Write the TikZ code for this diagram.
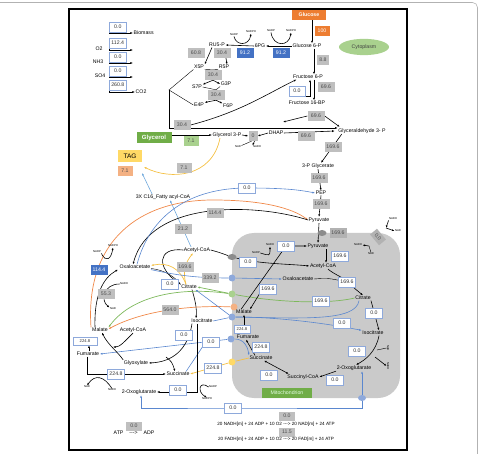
\documentclass[tikz,border=0pt]{standalone}
\usepackage{fontspec}
\setmainfont{Liberation Sans}
\usetikzlibrary{arrows.meta,shapes.geometric}
\definecolor{boxgray}{HTML}{BFBFBF}
\definecolor{valtext}{HTML}{4D4D4D}
\definecolor{wline}{HTML}{8EA9DB}
\definecolor{boxblue}{HTML}{4472C4}
\definecolor{orangebox}{HTML}{ED7D31}
\definecolor{greenbox}{HTML}{70AD47}
\definecolor{lgreen}{HTML}{A9D18E}
\definecolor{tagyellow}{HTML}{FFD966}
\definecolor{salmon}{HTML}{F4B183}
\definecolor{mitogray}{HTML}{CACACA}
\definecolor{lnblue}{HTML}{5A87CF}
\definecolor{lnlblue}{HTML}{6FA8DC}
\definecolor{lnorange}{HTML}{F0894A}
\definecolor{lnyellow}{HTML}{F4C043}
\definecolor{lngreen}{HTML}{7DB85B}
\definecolor{tpblue}{HTML}{8EA9DB}
\newcommand{\mf}{\fontsize{5.2}{6}\selectfont}
\newcommand{\smf}{\fontsize{4.2}{5}\selectfont}
\newcommand{\cf}{\fontsize{2.8}{3.2}\selectfont}
\pgfdeclarelayer{back}
\pgfdeclarelayer{mid}
\pgfsetlayers{back,mid,main}
\begin{document}
\begin{tikzpicture}[x=1pt,y=-1pt,
  met/.style={font=\mf,inner sep=0.5pt},
  cof/.style={font=\cf,inner sep=0.3pt},
  val/.style={font=\mf,minimum width=17,minimum height=10,inner sep=1pt},
  gbox/.style={val,fill=boxgray,text=valtext},
  wbox/.style={val,draw=wline,line width=0.6pt,fill=white,text=black!80},
  bbox/.style={val,fill=boxblue,text=white},
  smallval/.style={font=\smf,minimum width=14,minimum height=8},
  tp/.style={circle,fill=tpblue,minimum size=7,inner sep=0pt},
  carrier/.style={ellipse,fill=black!45,minimum width=9,minimum height=6,inner sep=0pt},
  arr/.style={-{Latex[length=2.6pt,width=2pt]},line width=0.6pt},
  arrs/.style={{Latex[length=2.6pt,width=2pt]}-{Latex[length=2.6pt,width=2pt]},line width=0.6pt},
  blu/.style={draw=lnblue,line width=0.6pt},
  lblu/.style={draw=lnlblue,line width=0.6pt},
  orn/.style={draw=lnorange,line width=0.7pt},
  yel/.style={draw=lnyellow,line width=0.7pt},
  grn/.style={draw=lngreen,line width=0.7pt}]
\useasboundingbox (0,0) rectangle (479,454);

% exchange fluxes
\node[wbox,anchor=west] (exbio) at (109,27) {0.0};
\node[met,anchor=west] (biom) at (133,33) {Biomass};
\node[wbox,anchor=west] (exo2) at (109,43) {112.4};
\node[met] (o2) at (99,49) {O2};
\coordinate (o2e) at (133,50);
\node[wbox,anchor=west] (exnh3) at (109,57) {0.0};
\node[met] (nh3) at (98,62) {NH3};
\coordinate (nh3e) at (133,63);
\node[wbox,anchor=west] (exso4) at (109,71) {0.0};
\node[met] (so4) at (100,76) {SO4};
\coordinate (so4e) at (133,77);
\node[wbox,anchor=west] (exco2) at (109,85) {260.8};
\node[met,anchor=west] (co2) at (135,92) {CO2};

% glycolysis
\node[val,fill=orangebox,text=white,minimum width=34,font=\mf\bfseries] (glc) at (309,15) {Glucose};
\node[val,fill=orangebox,text=white,minimum width=15] (vglc) at (322,31) {100};
\node[ellipse,fill=lgreen,minimum width=50,minimum height=14,font=\mf,text=black!75] (cyto) at (364,47) {Cytoplasm};
\node[met] (g6p) at (307,46) {Glucose 6-P};
\node[gbox,minimum width=12] (v88) at (323,60) {8.8};
\node[met] (f6p) at (308,77) {Fructose 6-P};
\node[gbox] (vpfk) at (326,87) {69.6};
\node[wbox,minimum width=16] (vfbpase) at (297,91) {0.0};
\node[met] (fbp) at (307,103) {Fructose 16-BP};
\node[gbox] (vald) at (316,116) {69.6};
\coordinate (aldl) at (283,122);
\node[met] (gap) at (362,131) {Glyceraldehyde 3- P};
\node[gbox] (vtpi) at (306,136) {69.6};
\node[met] (dhap) at (276,133) {DHAP};
\node[gbox] (vgapdh) at (333,147) {169.6};
\node[met] (pga) at (318,166) {3-P Glycerate};
\node[gbox] (veno) at (319,178) {169.6};
\node[met] (pep) at (321,193) {PEP};
\node[gbox] (vpk) at (321,204) {169.6};
\node[met] (pyr) at (319,220) {Pyruvate};

% pentose phosphate
\node[met] (ru5p) at (217,45) {RU5-P};
\node[met] (pg6) at (260,46) {6PG};
\node[bbox] (vgnd) at (245,53) {91.2};
\node[bbox] (vg6pdh) at (281,53) {91.2};
\node[cof] (nadp1) at (234,35) {NADP};
\node[cof] (nadph1) at (251,32) {NADPH};
\node[cof] (nadp2) at (271,31) {NADP};
\node[cof] (nadph2) at (291,31) {NADPH};
\node[gbox] (vrpe) at (196,53) {60.8};
\node[gbox] (vrpi) at (222,53) {30.4};
\node[met] (x5p) at (199,67) {X5P};
\node[met] (r5p) at (224,67) {R5P};
\node[gbox] (vtkt) at (213,75) {30.4};
\node[met] (s7p) at (197,87) {S7P};
\node[met] (g3p) at (226,84) {G3P};
\node[gbox] (vtal) at (216,95) {30.4};
\node[met] (e4p) at (199,105) {E4P};
\node[met] (f6pb) at (228,106) {F6P};
\coordinate (pppbr) at (169,90);
\node[gbox] (vppp) at (182,125) {30.4};

% glycerol and TAG
\node[val,fill=greenbox,text=white,minimum width=35,minimum height=11,font=\fontsize{6}{7}\selectfont\bfseries] (glyc) at (154,138) {Glycerol};
\node[val,fill=lgreen,text=valtext,minimum width=15] (vglyc) at (191,141) {7.1};
\node[met] (g3pl) at (227,135) {Glycerol 3-P};
\node[gbox,minimum width=9] (vgpd) at (253,136) {0};
\node[cof] (nad1) at (238,147) {NAD};
\node[cof] (nadh1) at (257,147) {NADH};
\node[val,fill=tagyellow,minimum width=24,minimum height=12,font=\fontsize{6.5}{7}\selectfont] (tag) at (130,156) {TAG};
\node[val,fill=salmon,text=valtext,minimum width=15] (vtag) at (125,171) {7.1};
\node[gbox,minimum width=15] (vtagg) at (184,168) {7.1};
\coordinate (tagin1) at (144,167);
\coordinate (tagin2) at (142,173);
\node[met] (fac) at (163,197) {3X C16\_Fatty acyl-CoA};
\node[gbox] (vfas) at (183,229) {21.2};

% cytosolic reactions
\node[wbox] (vpck) at (247,188) {0.0};
\node[gbox] (vpc) at (215,213) {114.4};
\node[met] (oaa) at (135,267) {Oxaloacetate};
\node[bbox] (vme) at (99,270) {114.4};
\node[cof] (nadp3) at (97,252) {NADP};
\node[cof] (nadph3) at (113,246) {NADPH};
\node[gbox] (vmdh) at (106,294) {55.3};
\node[cof] (nadh3) at (124,284) {NADH};
\node[cof] (nad3) at (113,309) {NAD};
\node[met] (acoa) at (197,250) {Acetyl-CoA};
\node[gbox] (vacl) at (185,267) {169.6};
\node[met] (cit) at (189,287) {Citrate};
\node[wbox] (vcs) at (170,284) {0.0};
\node[gbox] (voaat) at (210,278) {339.2};
\node[gbox] (vmalt) at (170,310) {564.0};
\node[met] (cicit) at (202,321) {Isocitrate};
\node[met] (mal) at (100,330) {Malate};
\node[met] (cacoa2) at (133,330) {Acetyl-CoA};
\node[wbox,smallval,minimum width=24] (vfum) at (85,341) {224.8};
\node[met] (fum) at (88,354) {Fumarate};
\node[wbox] (vicl) at (184,335) {0.0};
\node[met] (glx) at (136,363) {Glyoxylate};
\node[met] (csuc) at (178,374) {Succinate};
\node[wbox] (vfrd) at (116,374) {224.8};
\node[cof] (nad6) at (87,387) {NAD};
\node[cof] (nadh6) at (112,390) {NADH};
\node[met] (cogl) at (139,392) {2-Oxoglutarate};
\node[wbox] (vidhc) at (178,390) {0.0};
\node[cof] (nadp5) at (213,387) {NADP};
\node[cof] (nadph5) at (207,399) {NADPH};
\coordinate (msarr) at (113,347);
\coordinate (iclb) at (166,357);
\node[wbox] (vfumt) at (211,342) {0.0};
\node[wbox] (vsuct) at (213,368) {224.8};
\node[wbox] (vogt) at (233,408) {0.0};

% transporters
\node[tp] (tpoaa) at (232,278) {};
\node[tp,fill=lgreen] (tpcit) at (232,294) {};
\node[tp,fill=salmon] (tpmal) at (234,307) {};
\node[tp] (tpic) at (232,317) {};
\node[tp] (tpfum) at (231,339) {};
\node[tp,fill=tagyellow] (tpsuc) at (232,362) {};
\node[tp,ellipse,minimum width=8,minimum height=6] (tpog) at (362,398) {};
\node[carrier] (tppyr) at (322,233) {};
\node[carrier] (tpac) at (232,257) {};

% mitochondrion
\node[gbox,fill=black!30] (vmpc) at (338,233) {169.6};
\node[gbox,fill=black!30,rotate=-50,minimum width=14,minimum height=9] (vpdh) at (378,237) {0.0};
\node[cof] (nadh7a) at (393,219) {NADH};
\node[cof] (nad7a) at (398,231) {NAD};
\node[cof] (nadh7b) at (358,245) {NADH};
\node[cof] (nad7b) at (371,254) {NAD};
\coordinate (pdhne) at (386,228);
\coordinate (pdhsw) at (369,246);
\node[met] (mpyr) at (318,246) {Pyruvate};
\node[wbox] (vmme) at (286,246) {0.0};
\node[cof] (nadh4) at (270,245) {NADH};
\node[cof] (nadp4) at (256,253) {NADP};
\node[wbox] (vact) at (248,262) {0.0};
\node[wbox] (vmpdh) at (340,256) {169.6};
\node[met] (macoa) at (323,266) {Acetyl-CoA};
\node[met] (moaa) at (298,279) {Oxaloacetate};
\node[wbox] (vmcs) at (347,282) {169.6};
\node[wbox] (vmmdh) at (268,289) {169.6};
\node[met] (mcit) at (363,298) {Citrate};
\node[wbox] (vcitt) at (321,301) {169.6};
\node[wbox] (vaco) at (374,313) {0.0};
\node[met] (mmal) at (244,312) {Malate};
\node[wbox] (vict) at (342,323) {0.0};
\node[wbox,smallval,minimum width=16] (vmfum) at (242,329) {224.8};
\node[met] (micit) at (373,333) {Isocitrate};
\node[met] (mfum) at (248,337) {Fumarate};
\node[wbox] (vsdh) at (261,347) {224.8};
\node[wbox] (vidh) at (357,351) {0.0};
\node[cof,rotate=-90] (nad8) at (388,348) {NAD};
\node[cof,rotate=-90] (nadh8) at (388,366) {NADH};
\coordinate (idha) at (377,350);
\coordinate (idhb) at (375,357);
\node[met] (msuc) at (261,358) {Succinate};
\node[met] (mogl) at (354,368) {2-Oxoglutarate};
\node[wbox] (vscs) at (269,375) {0.0};
\node[met] (msca) at (303,377) {Succinyl-CoA};
\node[wbox] (vogdh) at (335,380) {0.0};
\node[val,fill=greenbox,text=white!90!green,minimum width=50] (mitol) at (287,393) {Mitochondrion};

% energy
\node[gbox,minimum width=16,minimum height=9] (vatp) at (134,426) {0.0};
\node[met] (atpm) at (134,433) {ATP\hspace{6pt}-{}-{}->\hspace{6pt}ADP};
\node[gbox,minimum width=16,minimum height=9] (vnadh) at (287,416) {0.0};
\node[gbox,minimum width=16,minimum height=9] (vfadh) at (287,432) {11.5};
\node[met,font=\fontsize{4.6}{5}\selectfont] (eqn) at (276,424) {20 NADH[m] + 24 ADP + 10 O2 -{}-{}-> 20 NAD[m] + 24 ATP};
\node[met,font=\fontsize{4.6}{5}\selectfont] (eqf) at (276,439) {20 FADH[m] + 24 ADP + 10 O2 -{}-{}-> 20 FAD[m] + 24 ATP};

\begin{pgfonlayer}{back}
\draw[black!30,line width=0.6pt,rounded corners=5] (-5,2.5) -| (477.5,470);
\fill[mitogray,rounded corners=22] (232,233) rectangle (400,398);
\draw[line width=1.2pt] (69,9) rectangle (407,450);
\end{pgfonlayer}

\begin{pgfonlayer}{mid}
\draw[arr] (exbio.south west) |- (biom.west);
\draw[arr] (exo2.south west) |- (o2e);
\draw[arr] (exnh3.south west) |- (nh3e);
\draw[arr] (exso4.south west) |- (so4e);
\draw[arr] (exco2.south west) |- (co2.west);
% glycolysis
\draw[arr] ([xshift=3]glc.south) -- ([xshift=5]g6p.north);
\draw[arr] ([xshift=7]g6p.south) -- ([xshift=6]f6p.north);
\draw[arr] ([xshift=6]f6p.south) -- ([xshift=7]fbp.north);
\draw[arr] (vfbpase.south east) -| ([xshift=2]f6p.south);
\draw[arr] (vald.west) -- (aldl);
\draw[arr] (vald.east) -- ([xshift=2,yshift=1]gap.north west);
\draw[arr] (g3pl.east) -- (vgpd.west);
\draw[arr] (dhap.west) -- (vgpd.east);
\draw (nad1.north east) -- ([xshift=-1.5]vgpd.south);
\draw[arr] ([xshift=1.5]vgpd.south) -- (nadh1.north west);
\draw[arr] (dhap.east) -- ([xshift=-3]gap.west);
\draw[arr] ([xshift=4]gap.south west) -- ([xshift=3]pga.north);
\draw[arr] (pga.south) -- (pep.north);
\draw[arr] (pep.south) -- (pyr.north);
% pentose phosphate
\draw[arr] (pg6.west) -- (ru5p.east);
\draw[arr] (nadp1.south) .. controls (236,46) and (249,46) .. (nadph1.south);
\draw[arr] (g6p.west) -- (pg6.east);
\draw[arr] (nadp2.south) .. controls (273,47) and (289,47) .. (nadph2.south);
\draw[arr] ([xshift=-5]ru5p.south) -- (x5p.north east);
\draw[arr] ([xshift=4]vrpi.south) -- ([xshift=3]r5p.north);
\draw (x5p.south east) -- (vtkt.north);
\draw (r5p.south west) -- (vtkt.north);
\draw[arr] (vtkt.south) -- (s7p.north east);
\draw[arr] (vtkt.south) -- (g3p.west);
\draw (s7p.east) -- (vtal.north);
\draw (g3p.south west) -- (vtal.north);
\draw[arr] (vtal.south) -- (e4p.north east);
\draw[arr] (vtal.south) -- (f6pb.north west);
\draw (x5p.south west) -- (pppbr) -- (e4p.west);
\draw[arr] (pppbr) |- ([yshift=3]gap.west);
\draw[arr] (vppp.east) .. controls (240,112) and (265,95) .. ([xshift=4]f6p.south west);
% glycerol and TAG
\draw[arr] ([yshift=3]glyc.east) -- (g3pl.west);
\draw[arr,yel] ([xshift=-7]g3pl.south) .. controls (212,178) and (170,180) .. (tagin1);
\draw[arr,lblu] ([xshift=-11]fac.north) -- (tagin2);
\draw[arr,lblu] ([xshift=-6]acoa.north) -- ([xshift=7]fac.south);
% anaplerotic
\draw[arr,orn] ([xshift=-9]mal.north) .. controls (85,240) and (140,200) .. (213,200) .. controls (262,200) and (292,208) .. (pyr.west);
\draw[arr] (pyr.west) .. controls (255,203) and (150,200) .. ([xshift=-2]oaa.north);
\draw[arr,blu] ([xshift=2]oaa.north) .. controls (150,215) and (190,188) .. (vpck.center) .. controls (285,188) and (300,190) .. (pep.west);
\draw[arr] (nadp3.south east) .. controls (106,263) and (111,259) .. (nadph3.south);
\draw[arr] ([xshift=-5]mal.north) .. controls (94,295) and (103,278) .. ([xshift=-17]oaa.south);
\draw[arr] (nadh3.west) .. controls (104,284) and (100,300) .. (nad3.north west);
% cytosolic citrate
\draw[arr] (acoa.west) .. controls (157,247) and (156,268) .. (cit.north west);
\draw ([yshift=-1.5]oaa.east) .. controls (165,270) and (175,277) .. (cit.north west);
\draw[arr,yel] ([xshift=-3]cit.north) .. controls (180,268) and (168,262) .. ([yshift=1.5]oaa.east);
\draw[arr,yel] ([xshift=-3]cit.north) .. controls (182,270) and (186,262) .. ([xshift=-4]acoa.south);
\draw[arr] ([xshift=3]cit.south) .. controls (195,300) and (197,308) .. ([xshift=-6]cicit.north);
% transport
\draw[blu] (oaa.south east) .. controls (180,276) and (200,278) .. (tpoaa);
\draw[arr,blu] (tpoaa) -- (moaa.west);
\draw[arr,grn] (tpcit) -- (cit.east);
\draw[arr,grn] (tpcit) .. controls (175,286) and (130,298) .. (mal.north east);
\draw[grn] (tpcit) .. controls (280,303) and (330,304) .. (mcit.west);
\draw[arr,orn] (tpmal) .. controls (185,305) and (140,312) .. ([yshift=1]mal.east);
\draw[arr,blu] (tpic) -- ([xshift=-2]cit.south east);
\draw[blu] (cicit.east) -- (tpic);
\draw[blu] ([xshift=-4]mcit.south) .. controls (356,322) and (300,318) .. (tpic);
\draw[arr,blu] (tpic) .. controls (280,317) and (330,324) .. (micit.north west);
\draw[arr,blu] (tpfum) -- (fum.east);
\draw[blu] ([xshift=-4]csuc.north east) -- (vfumt.south west);
\draw[arr,blu] (tpfum) .. controls (244,339) and (248,347) .. (msuc.north west);
\draw[arr,yel] (tpsuc) -- (csuc.east);
\draw[yel] (tpsuc) -- (msuc.west);
\draw[arr,blu] (tpog) -- ([xshift=8]mogl.south);
\draw[arr,blu] (tpog) |- (vogt.center) -| ([xshift=2]cogl.south);
% glyoxylate shunt
\draw[arr] ([xshift=1]fum.north) -- ([xshift=1]fum.north |- vfum.south);
\draw[arr] (cacoa2.south) .. controls (124,342) and (120,347) .. (msarr);
\draw[arr] (glx.north west) .. controls (118,352) and (108,345) .. ([xshift=2]mal.south);
\draw[arr] ([xshift=-10]cicit.south) .. controls (188,350) and (172,362) .. (glx.east);
\draw[arr] (iclb) .. controls (172,362) .. ([xshift=-3]csuc.north);
\draw[arr] ([xshift=-5]cicit.south) |- (cogl.east);
\draw[arr] (nadp5.west) .. controls (199,380) and (197,392) .. (nadph5.north);
\draw[arr] ([xshift=-1]fum.south) |- (csuc.west);
\draw[arr] (nadh6.north) .. controls (104,376) and (95,374) .. (nad6.north);
% mitochondrion
\draw[arr] (pyr.south) -- (mpyr.north);
\draw[arr] (nadh7a.south west) -- (pdhne);
\draw[arr] (pdhne) -- (nad7a.west);
\draw[arr] (pdhsw) -- (nadh7b.east);
\draw (nad7b.north) -- (pdhsw);
\draw[arr] (acoa.east) .. controls (218,252) .. (tpac) .. controls (260,264) and (290,264) .. (macoa.west);
\draw[arr] ([xshift=-3]mmal.north) -- (vmme.center) -- (mpyr.west);
\draw[arr] (nadp4.east) .. controls (270,256) .. (nadh4.south);
\draw[arr] ([xshift=8]mpyr.south) -- ([xshift=3]macoa.north);
\draw[arr] ([xshift=5]macoa.south) .. controls (335,275) and (345,278) .. (vmcs.center) -- (mcit.north);
\draw (moaa.east) .. controls (328,278) .. (vmcs.center);
\draw[arr] (vmmdh.south west) -- ([xshift=6]mmal.north);
\draw[arr] ([xshift=-4]mfum.north) -- (mmal.south);
\draw[arr] ([xshift=-6]msuc.north) -- ([xshift=-2]mfum.south);
\draw[arrs] ([xshift=3]msuc.south) -- ([xshift=2]msca.north west);
\draw[arr] (mogl.south west) -- (msca.east);
\draw[arr] ([xshift=8]mcit.south) -- ([xshift=6]micit.north);
\draw[arr] ([xshift=6]micit.south) .. controls (376,352) and (365,360) .. ([xshift=2]mogl.north);
\draw (idha) -- (nad8.south);
\draw[arr] (idhb) -- (nadh8.south);
\end{pgfonlayer}
\end{tikzpicture}
\end{document}
